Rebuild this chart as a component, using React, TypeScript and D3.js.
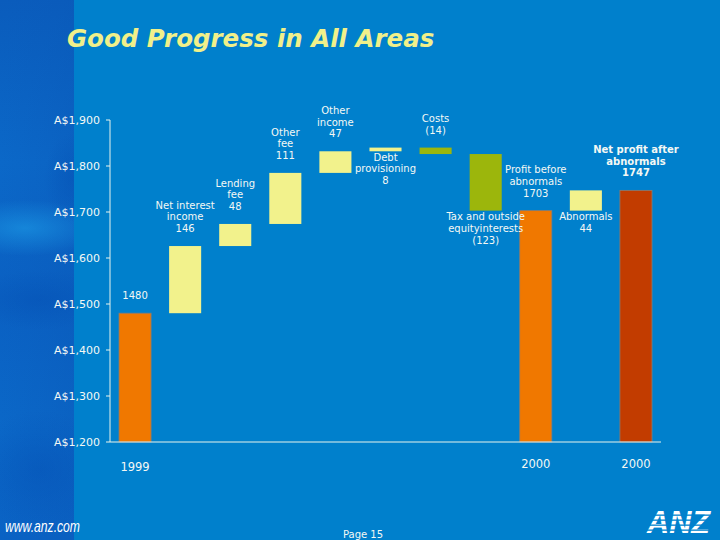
import React from "react";
import * as d3 from "d3";

const categories = [
  "1999",
  "Net interest income",
  "Lending fee",
  "Other fee",
  "Other income",
  "Debt provisioning",
  "Costs",
  "Tax and outside equityinterests",
  "Profit before abnormals",
  "Abnormals",
  "Net profit after abnormals",
];
const values = [1480, 146, 48, 111, 47, 8, -14, -123, 1703, 44, 1747];
const kinds = ["total", "delta", "delta", "delta", "delta", "delta", "delta", "delta", "total", "delta", "total"];
const barColors = ["#f07800", "#f2f28c", "#f2f28c", "#f2f28c", "#f2f28c", "#f2f28c", "#9cb60c", "#9cb60c", "#f07800", "#f2f28c", "#c23c00"];
const labelLines = [
  ["1480"],
  ["Net interest", "income", "146"],
  ["Lending", "fee", "48"],
  ["Other", "fee", "111"],
  ["Other", "income", "47"],
  ["Debt", "provisioning", "8"],
  ["Costs", "(14)"],
  ["Tax and outside", "equityinterests", "(123)"],
  ["Profit before", "abnormals", "1703"],
  ["Abnormals", "44"],
  ["Net profit after", "abnormals", "1747"],
];
const labelPlacement = ["above", "above", "above", "above", "above", "below", "above", "below", "above", "below", "above"];
const xTickLabels = ["1999", "", "", "", "", "", "", "", "2000", "", "2000"];
const yTicks = [1200, 1300, 1400, 1500, 1600, 1700, 1800, 1900];

const W = 720;
const H = 540;
const BG = "#0080cc";
const FONT = "'DejaVu Sans', Verdana, sans-serif";
const TXT = "#f4f8f4";

export default function App() {
  const x = d3
    .scaleBand<number>()
    .domain(categories.map((_, i) => i))
    .range([110, 661])
    .paddingInner(0.36)
    .paddingOuter(0.18);
  const y = d3.scaleLinear().domain([1200, 1900]).range([442, 120]);

  let running = 0;
  const bars = values.map((v, i) => {
    let lo: number, hi: number;
    if (kinds[i] === "total") {
      lo = 1200;
      hi = v;
      running = v;
    } else {
      const start = running;
      running = start + v;
      lo = Math.min(start, running);
      hi = Math.max(start, running);
    }
    return { i, lo, hi };
  });

  const lineH = 11.7;
  const fmt = (d: number) => "A$" + d3.format(",")(d);

  return (
    <svg width={W} height={H} style={{ position: "absolute", left: 0, top: 0 }} fontFamily={FONT}>
      <defs>
        <linearGradient id="strip" x1="0" y1="0" x2="0" y2="1">
          <stop offset="0" stopColor="#0a5cbc" />
          <stop offset="0.3" stopColor="#0b68c8" />
          <stop offset="0.55" stopColor="#0a60c2" />
          <stop offset="0.8" stopColor="#0b68c8" />
          <stop offset="1" stopColor="#0a62c4" />
        </linearGradient>
        <linearGradient id="stripH" x1="0" y1="0" x2="1" y2="0">
          <stop offset="0" stopColor="#0a5cbc" stopOpacity="0" />
          <stop offset="1" stopColor="#0a58b8" stopOpacity="0.35" />
        </linearGradient>
        <radialGradient id="glow1" cx="0.5" cy="0.5" r="0.5">
          <stop offset="0" stopColor="#1a94e2" stopOpacity="0.7" />
          <stop offset="1" stopColor="#1a94e2" stopOpacity="0" />
        </radialGradient>
        <radialGradient id="dark1" cx="0.5" cy="0.5" r="0.5">
          <stop offset="0" stopColor="#0450b4" stopOpacity="0.45" />
          <stop offset="1" stopColor="#0450b4" stopOpacity="0" />
        </radialGradient>
        <clipPath id="stripClip">
          <rect x={0} y={0} width={74} height={H} />
        </clipPath>
      </defs>
      <rect x={0} y={0} width={W} height={H} fill={BG} />
      <g clipPath="url(#stripClip)">
        <rect x={0} y={0} width={74} height={H} fill="url(#strip)" />
        <rect x={0} y={0} width={74} height={H} fill="url(#stripH)" />
        <ellipse cx={25} cy={228} rx={80} ry={28} fill="url(#glow1)" />
        <ellipse cx={72} cy={178} rx={28} ry={45} fill="url(#dark1)" />
        <ellipse cx={40} cy={300} rx={70} ry={30} fill="url(#dark1)" />
        <ellipse cx={40} cy={470} rx={70} ry={60} fill="url(#dark1)" />
      </g>
      <path d={`M74,${H} V22 Q74,0 96,0 H${W} V${H} Z`} fill={BG} />

      <text x={67} y={47} fill="#f0f08a" fontSize={24.5} fontWeight="bold" fontStyle="italic">
        Good Progress in All Areas
      </text>

      {/* y axis */}
      <line x1={110} x2={110} y1={y(1900)} y2={y(1200)} stroke="#e8f4ec" strokeWidth={1} />
      {yTicks.map((t) => (
        <g key={t}>
          <line x1={106} x2={110} y1={y(t)} y2={y(t)} stroke="#e8f4ec" />
          <text x={100} y={y(t)} dy="0.36em" textAnchor="end" fill={TXT} fontSize={11}>
            {fmt(t)}
          </text>
        </g>
      ))}

      {/* bars */}
      {bars.map((b) => (
        <rect
          key={b.i}
          x={x(b.i)}
          y={y(b.hi)}
          width={x.bandwidth()}
          height={y(b.lo) - y(b.hi)}
          fill={barColors[b.i]}
          stroke={kinds[b.i] === "total" ? "#8c7c70" : "none"}
          strokeWidth={0.8}
        />
      ))}

      {/* x axis */}
      <line x1={110} x2={661} y1={y(1200)} y2={y(1200)} stroke="#e8f4ec" strokeWidth={1} />
      {xTickLabels.map((t, i) =>
        t ? (
          <text
            key={i}
            x={(x(i) as number) + x.bandwidth() / 2}
            y={i === 0 ? 471 : 468}
            textAnchor="middle"
            fill={TXT}
            fontSize={11.5}
          >
            {t}
          </text>
        ) : null
      )}

      {/* labels */}
      {bars.map((b) => {
        const lines = labelLines[b.i];
        const cx = (x(b.i) as number) + x.bandwidth() / 2;
        const bold = b.i === categories.length - 1;
        let firstBase: number;
        if (labelPlacement[b.i] === "above") {
          const lastBase = y(b.hi) - 14;
          firstBase = lastBase - (lines.length - 1) * lineH;
        } else {
          firstBase = y(b.lo) + 9.5;
        }
        return (
          <text
            key={b.i}
            x={cx}
            textAnchor="middle"
            fill={TXT}
            fontSize={10}
            fontWeight={bold ? "bold" : "normal"}
          >
            {lines.map((l, k) => (
              <tspan key={k} x={cx} y={firstBase + k * lineH}>
                {l}
              </tspan>
            ))}
          </text>
        );
      })}

      {/* footer */}
      <text
        x={5}
        y={532}
        fill="#ffffff"
        fontFamily="'Liberation Sans', Arial, sans-serif"
        fontStyle="italic"
        fontSize={17}
        textLength={75}
        lengthAdjust="spacingAndGlyphs"
      >
        www.anz.com
      </text>
      <text x={363} y={538} textAnchor="middle" fill={TXT} fontSize={10}>
        Page 15
      </text>
      <g>
        <text
          x={647}
          y={533}
          fill="#ffffff"
          fontFamily="'Liberation Sans', Arial, sans-serif"
          fontStyle="italic"
          fontWeight="bold"
          fontSize={31}
          textLength={63}
          lengthAdjust="spacingAndGlyphs"
        >
          ANZ
        </text>
        {[514.5, 519.5, 524.5, 529.5].map((yy) => (
          <rect key={yy} x={640} y={yy} width={75} height={1.3} fill={BG} />
        ))}
      </g>
    </svg>
  );
}
